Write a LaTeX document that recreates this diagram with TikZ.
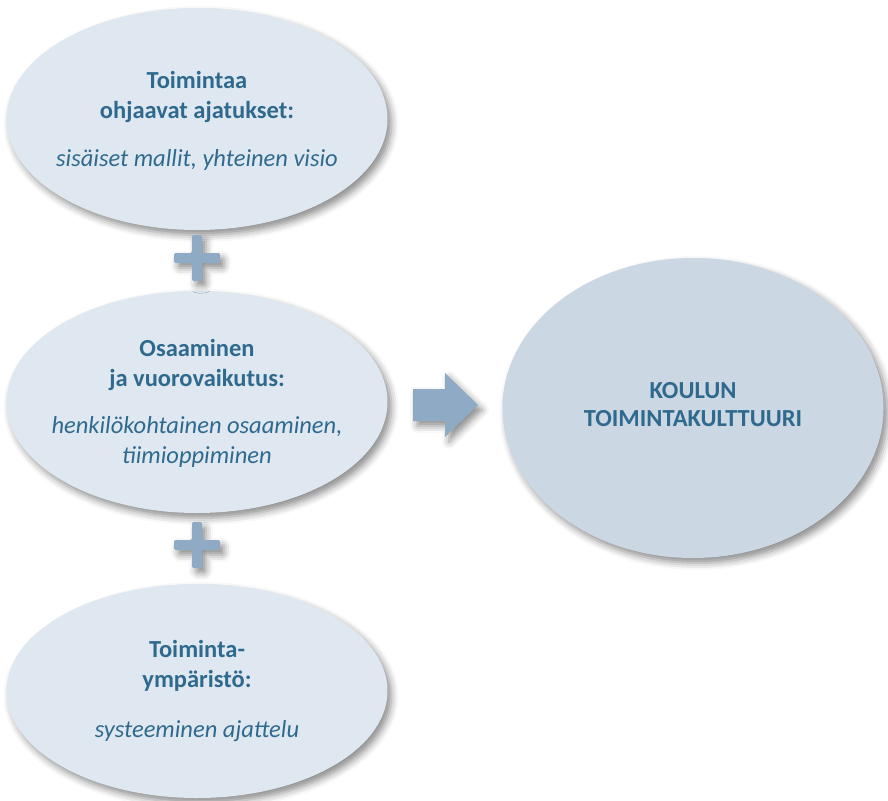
\documentclass[tikz,border=0pt]{standalone}
\usepackage{fontspec}
\setmainfont{Carlito}
\usetikzlibrary{shapes.geometric,shadows.blur,calc}
\definecolor{pale}{HTML}{DFE8F0}
\definecolor{result}{HTML}{CBD7E3}
\definecolor{ink}{HTML}{2F6A8E}
\definecolor{sign}{HTML}{8EAAC4}
\tikzset{
  softshadow/.style={blur shadow={shadow xshift=4pt,shadow yshift=-5pt,shadow blur radius=7pt,shadow opacity=45}},
  bubble/.style={ellipse,fill=pale,softshadow,inner sep=0pt,minimum width=381pt,minimum height=222pt},
  % anchor=base sits on the baseline of the last line
  label/.style={text=ink,align=center,anchor=base,inner sep=0pt,font=\fontsize{24.5}{30}\selectfont},
  signfill/.style={fill=sign,softshadow}
}
\newcommand{\plussign}[1]{%
  \path[signfill,rounded corners=2pt] ($(#1)+(-5,-23)$) -- ($(#1)+(5,-23)$) -- ($(#1)+(5,-5)$) -- ($(#1)+(23,-5)$)
    -- ($(#1)+(23,5)$) -- ($(#1)+(5,5)$) -- ($(#1)+(5,23)$) -- ($(#1)+(-5,23)$) -- ($(#1)+(-5,5)$)
    -- ($(#1)+(-23,5)$) -- ($(#1)+(-23,-5)$) -- ($(#1)+(-5,-5)$) -- cycle;}
\begin{document}
\begin{tikzpicture}[x=1pt,y=1pt]
\useasboundingbox (0,-800) rectangle (888,0);
% three contributing factors
\node[bubble] (ideas) at (197,-119) {};
\node[bubble] (skills) at (197,-402) {};
\node[bubble,minimum height=214pt] (env) at (197,-691) {};
% resulting school culture
\node[bubble,fill=result,minimum height=300pt] (culture) at (693,-408) {};

\node[label] (ideastxt) at (197,-166) {\textbf{Toimintaa}\\\textbf{ohjaavat ajatukset:}\\[18pt]\textit{sisäiset mallit, yhteinen visio}};
\node[label] (skillstxt) at (197,-463) {\textbf{Osaaminen}\\\textbf{ja vuorovaikutus:}\\[17pt]\textit{henkilökohtainen osaaminen,}\\\textit{tiimioppiminen}};
\node[label] (envtxt) at (197,-737) {\textbf{Toiminta-}\\\textbf{ympäristö:}\\[20pt]\textit{systeeminen ajattelu}};
\node[label,font=\fontsize{24.5}{28}\selectfont] (culturetxt) at (693,-426) {\textbf{KOULUN}\\\textbf{TOIMINTAKULTTUURI}};

% plus signs between the factors
\coordinate (p1) at (197,-258);
\coordinate (p2) at (197,-545);
\plussign{p1}
\plussign{p2}

% block arrow towards the result
\coordinate (arr) at (445,-405);
\path[signfill] ($(arr)+(-32,-16)$) -- ($(arr)+(0,-16)$) -- ($(arr)+(0,-32)$)
  -- ($(arr)+(33,0)$) -- ($(arr)+(0,32)$) -- ($(arr)+(0,16)$) -- ($(arr)+(-32,16)$) -- cycle;
\end{tikzpicture}
\end{document}
